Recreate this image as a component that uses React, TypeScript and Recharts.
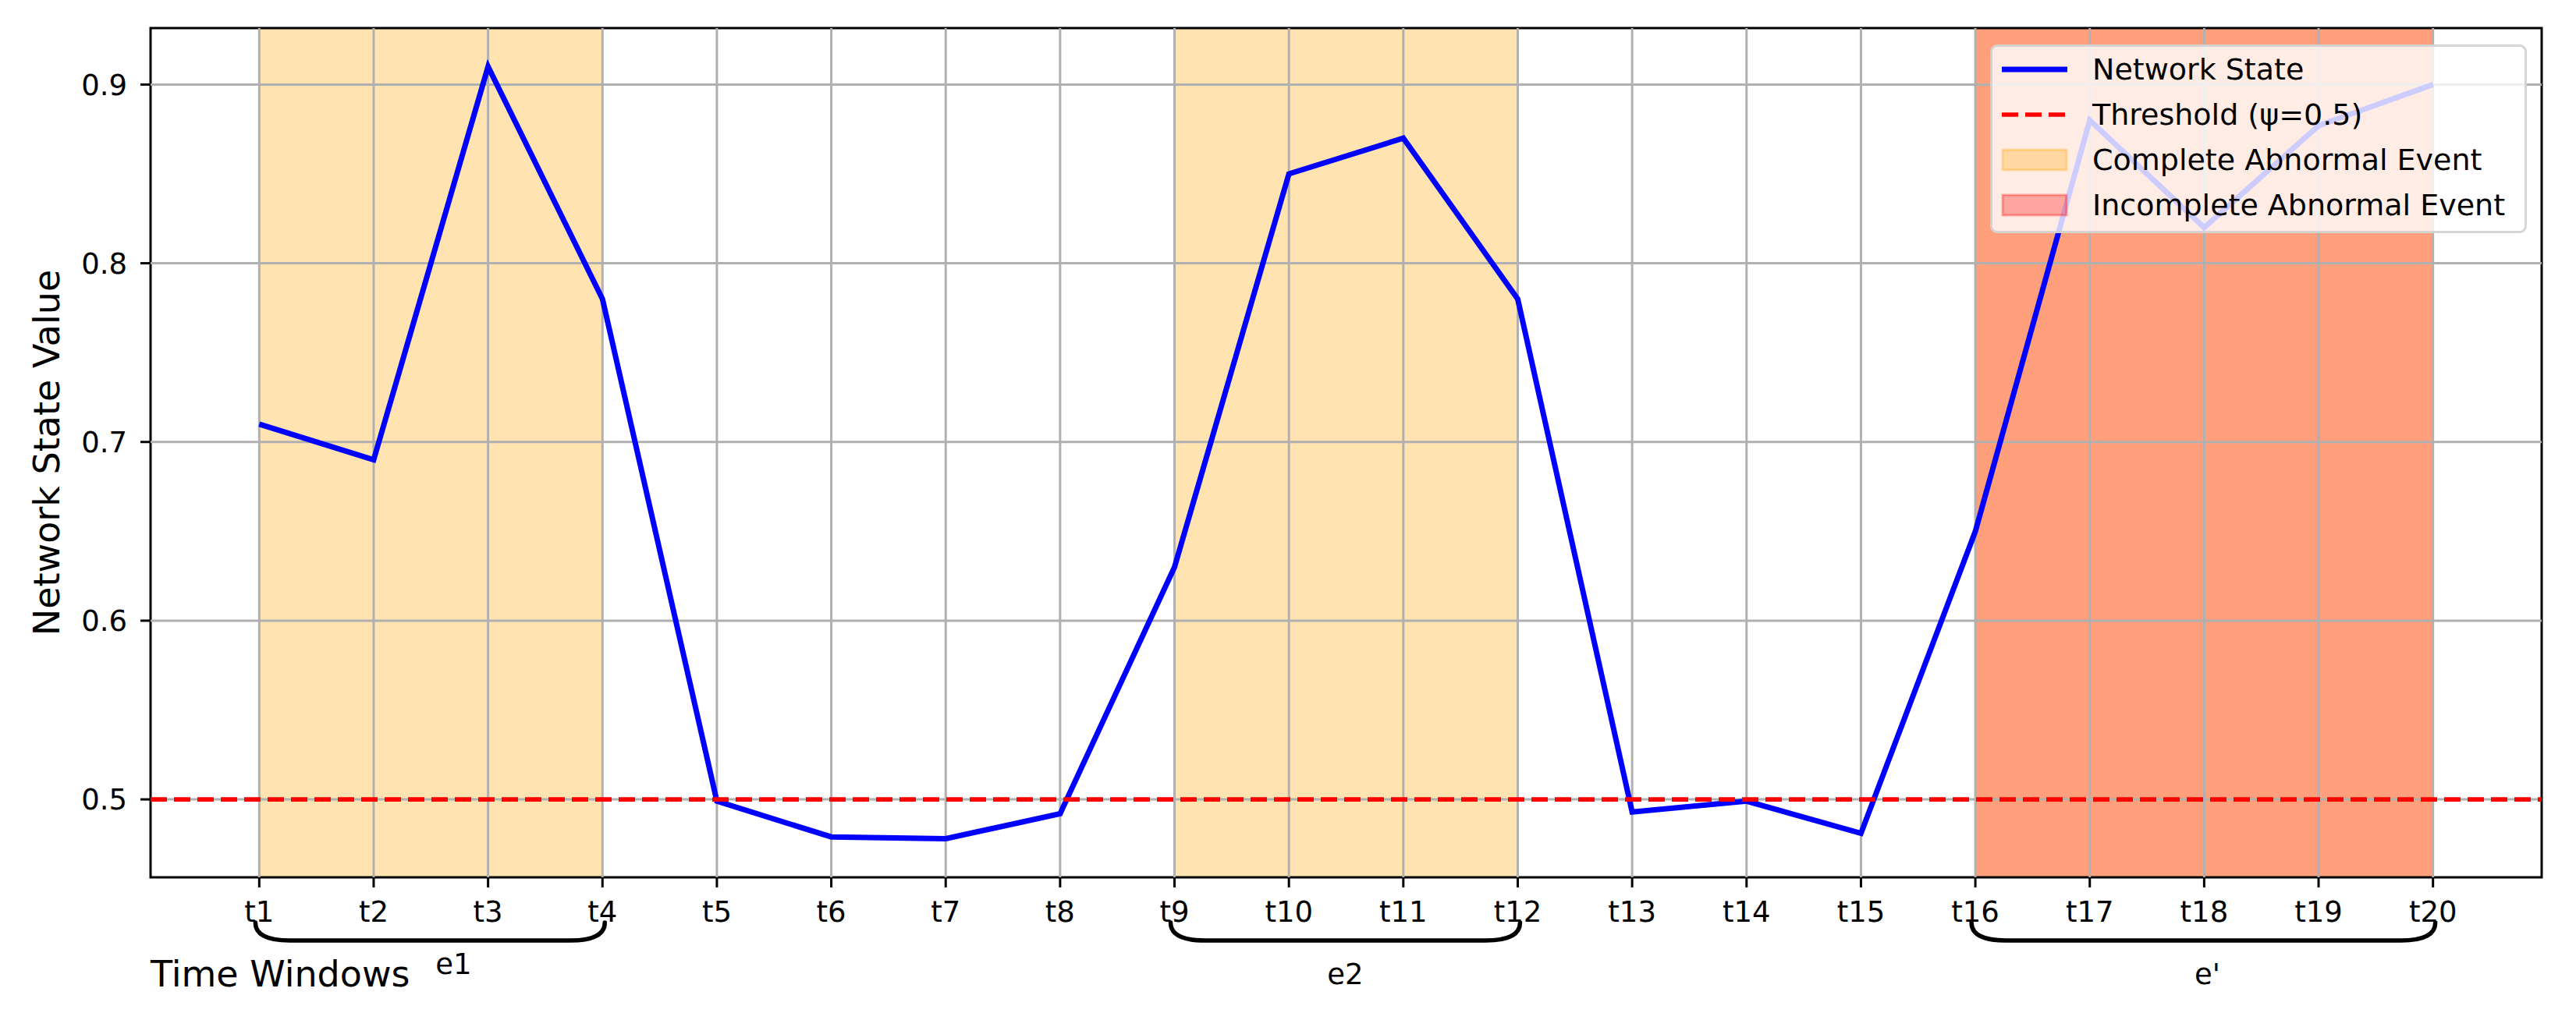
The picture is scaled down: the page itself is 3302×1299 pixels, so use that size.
import React from "react";
import {
  LineChart,
  Line,
  XAxis,
  YAxis,
  ReferenceArea,
  ReferenceLine,
  Legend,
} from "recharts";

const timeLabels = [
  "t1", "t2", "t3", "t4", "t5", "t6", "t7", "t8", "t9", "t10",
  "t11", "t12", "t13", "t14", "t15", "t16", "t17", "t18", "t19", "t20",
];

const stateValues = [
  0.71, 0.69, 0.91, 0.78, 0.499, 0.479, 0.478, 0.492, 0.63, 0.85,
  0.87, 0.78, 0.493, 0.499, 0.481, 0.65, 0.88, 0.82, 0.877, 0.9,
];

const threshold = 0.5;
const yTicks = [0.5, 0.6, 0.7, 0.8, 0.9];

// abnormal windows (start / end time index)
const eventLabels = ["e1", "e2", "e'"];
const eventStart = [1, 9, 16];
const eventEnd = [4, 12, 20];
const incompleteStart = [16];
const incompleteEnd = [20];

const legendLabels = [
  "Network State",
  "Threshold (ψ=0.5)",
  "Complete Abnormal Event",
  "Incomplete Abnormal Event",
];

// small label nudges, px
const labelNudge = [
  { dx: 30, dy: -13 },
  { dx: 0, dy: 0 },
  { dx: 5, dy: 0 },
];

const xTicks = timeLabels.map((_, i) => i + 1);
const data = timeLabels.map((t, i) => ({ x: i + 1, label: t, value: stateValues[i] }));

const FONT = "DejaVu Sans";
const W = 3302;
const H = 1299;
const xDomain = [0.05, 20.95];
const yDomain = [0.4564, 0.9316];

const Brace = (props: any) => {
  const { x, y, width, height, label, nudge } = props;
  const L = x - 5;
  const R = x + width + 3;
  const T = y + height + 58;
  const B = T + 23;
  const r = 44;
  const d = `M${L},${T} Q${L},${B} ${L + r},${B} L${R - r},${B} Q${R},${B} ${R},${T}`;
  return (
    <g>
      <path d={d} fill="none" stroke="#000" strokeWidth={5.5} strokeLinecap="round" />
      <text
        x={(L + R) / 2 + nudge.dx}
        y={B + 56 + nudge.dy}
        textAnchor="middle"
        fontFamily={FONT}
        fontSize={37}
        fill="#000"
      >
        {label}
      </text>
    </g>
  );
};

const LegendBox = () => (
  <div
    style={{
      boxSizing: "border-box",
      width: 688,
      height: 242,
      background: "rgba(255,255,255,0.8)",
      border: "3px solid rgba(204,204,204,0.8)",
      borderRadius: 9,
      padding: "0 0 6px 10px",
      fontFamily: FONT,
      fontSize: 38,
      color: "#000",
    }}
  >
    {legendLabels.map((name, i) => (
      <div key={name} style={{ display: "flex", alignItems: "center", height: 58 }}>
        <svg width={88} height={30} style={{ marginRight: 30, flex: "none" }}>
          {i === 0 && <line x1={2} y1={15} x2={86} y2={15} stroke="#0000ff" strokeWidth={7} />}
          {i === 1 && (
            <line x1={2} y1={15} x2={86} y2={15} stroke="#ff0000" strokeWidth={5.7} strokeDasharray="21 9" />
          )}
          {i === 2 && (
            <rect x={3} y={2} width={82} height={26} fill="#ffa500" fillOpacity={0.3} stroke="#ffa500" strokeOpacity={0.3} strokeWidth={3} />
          )}
          {i === 3 && (
            <rect x={3} y={2} width={82} height={26} fill="#ff0000" fillOpacity={0.3} stroke="#ff0000" strokeOpacity={0.3} strokeWidth={3} />
          )}
        </svg>
        <span style={{ whiteSpace: "nowrap" }}>{name}</span>
      </div>
    ))}
  </div>
);

export default function App() {
  return (
    <div style={{ position: "absolute", left: 0, top: 0, width: W, height: H, background: "#fff" }}>
      <LineChart
        width={W}
        height={H}
        data={data}
        margin={{ top: 36, right: 44, bottom: 114, left: 93 }}
      >
        <XAxis
          dataKey="x"
          type="number"
          domain={xDomain}
          ticks={xTicks}
          tickFormatter={(v) => timeLabels[v - 1]}
          height={60}
          axisLine={false}
          tickLine={{ stroke: "#000", strokeWidth: 3 }}
          tickSize={13}
          tickMargin={18}
          tick={{ fill: "#000", fontSize: 37, fontFamily: FONT }}
          interval={0}
          label={{
            content: (p: any) => (
              <text
                x={p.viewBox.x}
                y={p.viewBox.y + 140}
                textAnchor="start"
                fontFamily={FONT}
                fontSize={46}
                fill="#000"
              >
                Time Windows
              </text>
            ),
          }}
        />
        <YAxis
          type="number"
          domain={yDomain}
          ticks={yTicks}
          tickFormatter={(v) => v.toFixed(1)}
          width={100}
          axisLine={false}
          tickLine={{ stroke: "#000", strokeWidth: 3 }}
          tickSize={13}
          tickMargin={17}
          tick={{ fill: "#000", fontSize: 37, fontFamily: FONT }}
          allowDataOverflow
          label={{
            content: (p: any) => {
              const cy = p.viewBox.y + p.viewBox.height / 2;
              return (
                <text
                  x={60}
                  y={cy}
                  transform={`rotate(-90, 60, ${cy})`}
                  textAnchor="middle"
                  dominantBaseline="central"
                  fontFamily={FONT}
                  fontSize={46}
                  fill="#000"
                >
                  Network State Value
                </text>
              );
            },
          }}
        />

        {eventStart.map((s, i) => (
          <ReferenceArea
            key={`ev-${i}`}
            x1={s}
            x2={eventEnd[i]}
            fill="#ffa500"
            fillOpacity={0.3}
            stroke="none"
            ifOverflow="visible"
          />
        ))}
        {incompleteStart.map((s, i) => (
          <ReferenceArea
            key={`inc-${i}`}
            x1={s}
            x2={incompleteEnd[i]}
            fill="#ff0000"
            fillOpacity={0.3}
            stroke="none"
            ifOverflow="visible"
          />
        ))}

        {xTicks.map((t) => (
          <ReferenceLine key={`gx-${t}`} x={t} stroke="#b0b0b0" strokeWidth={3} />
        ))}
        {yTicks.map((t) => (
          <ReferenceLine key={`gy-${t}`} y={t} stroke="#b0b0b0" strokeWidth={3} />
        ))}

        {eventStart.map((s, i) => (
          <ReferenceArea
            key={`brace-${i}`}
            x1={s}
            x2={eventEnd[i]}
            fill="none"
            ifOverflow="visible"
            shape={(p: any) => <Brace {...p} label={eventLabels[i]} nudge={labelNudge[i]} />}
          />
        ))}

        <Line
          type="linear"
          dataKey="value"
          stroke="#0000ff"
          strokeWidth={7}
          dot={false}
          activeDot={false}
          isAnimationActive={false}
        />
        <ReferenceLine y={threshold} stroke="#ff0000" strokeWidth={5.7} strokeDasharray="21 9" />

        <ReferenceArea
          x1={xDomain[0]}
          x2={xDomain[1]}
          y1={yDomain[0]}
          y2={yDomain[1]}
          fill="none"
          stroke="#000"
          strokeWidth={3}
          ifOverflow="visible"
        />

        <Legend
          layout="vertical"
          align="center"
          verticalAlign="middle"
          content={() => <LegendBox />}
          wrapperStyle={{ position: "absolute", left: 2551, top: 57, width: 688, height: 242 }}
        />
      </LineChart>
    </div>
  );
}
